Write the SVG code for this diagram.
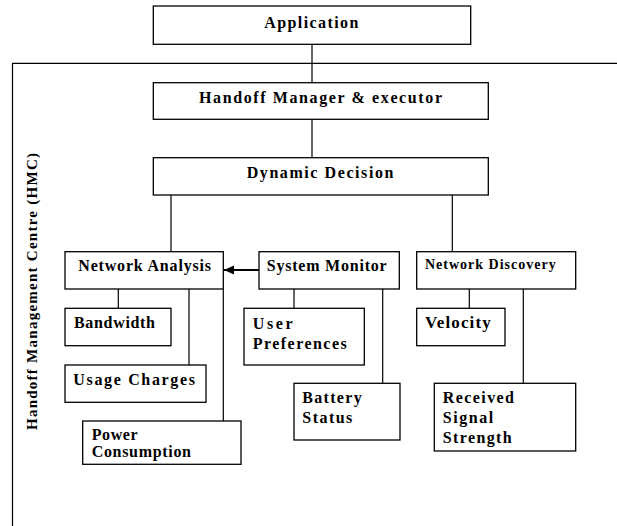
<svg xmlns="http://www.w3.org/2000/svg" width="617" height="526" viewBox="0 0 617 526">
<style>
.box{fill:#fff;stroke:#000;stroke-width:1.3}
.ln{fill:none;stroke:#000;stroke-width:1.2}
text{font-family:'Liberation Serif','Times New Roman','DejaVu Serif',serif;font-weight:700;font-size:16px;fill:#000}
.s{font-size:14px}
.b{font-size:17px}
.v{font-size:15px}
</style>
<defs>
<marker id="ah" markerUnits="userSpaceOnUse" markerWidth="12" markerHeight="10" refX="10" refY="5" orient="auto">
<polygon points="0,0.5 10,5 0,9.5" fill="#000"/>
</marker>
</defs>
<rect width="617" height="526" fill="#fff"/>
<g id="frame">
<path class="ln" d="M12.5,526 V63.3 H617"/>
<text class="v" transform="translate(37,430) rotate(-90)" textLength="277" lengthAdjust="spacing">Handoff Management Centre (HMC)</text>
</g>
<g id="connectors">
<path class="ln" d="M312,44.3 V82.7"/>
<path class="ln" d="M312,119.3 V157.7"/>
<path class="ln" d="M171,195 V251.7"/>
<path class="ln" d="M452.3,195 V251.7"/>
<path class="ln" d="M118.3,289 V308.3"/>
<path class="ln" d="M189,289 V365"/>
<path class="ln" d="M223.3,289 V421"/>
<path class="ln" d="M294,289 V308.3"/>
<path class="ln" d="M382.7,289 V383.3"/>
<path class="ln" d="M469.3,289 V308.3"/>
<path class="ln" d="M523.3,289 V383.3"/>
<line x1="259" y1="270" x2="224" y2="270" stroke="#000" stroke-width="2.2" marker-end="url(#ah)"/>
</g>
<g id="application">
<rect class="box" x="153.3" y="6" width="317.4" height="38.3"/>
<text x="264.3" y="28.3" textLength="94" lengthAdjust="spacing">Application</text>
</g>
<g id="handoff-manager">
<rect class="box" x="153.3" y="82.7" width="335" height="36.6"/>
<text x="199" y="103.3" textLength="243" lengthAdjust="spacing">Handoff Manager &amp; executor</text>
</g>
<g id="dynamic-decision">
<rect class="box" x="153.3" y="157.7" width="335" height="37.3"/>
<text x="246.7" y="177.7" textLength="146.7" lengthAdjust="spacing">Dynamic Decision</text>
</g>
<g id="network-analysis">
<rect class="box" x="65" y="251.7" width="158.3" height="37.3"/>
<text x="78.3" y="271" textLength="132.7" lengthAdjust="spacing">Network Analysis</text>
</g>
<g id="system-monitor">
<rect class="box" x="259" y="251.7" width="140.3" height="37.3"/>
<text x="266.7" y="271" textLength="120" lengthAdjust="spacing">System Monitor</text>
</g>
<g id="network-discovery">
<rect class="box" x="416.7" y="251.7" width="159" height="37.3"/>
<text class="s" x="425" y="269" textLength="130.7" lengthAdjust="spacing">Network Discovery</text>
</g>
<g id="bandwidth">
<rect class="box" x="65" y="308.3" width="106" height="37.4"/>
<text x="74" y="327.7" textLength="81" lengthAdjust="spacing">Bandwidth</text>
</g>
<g id="usage-charges">
<rect class="box" x="65" y="365" width="141" height="37.3"/>
<text x="73.3" y="385" textLength="121.7" lengthAdjust="spacing">Usage Charges</text>
</g>
<g id="power-consumption">
<rect class="box" x="82.7" y="421" width="158.3" height="43.3"/>
<text x="91.7" y="440" textLength="46" lengthAdjust="spacing">Power</text>
<text x="91.7" y="457.3" textLength="99.3" lengthAdjust="spacing">Consumption</text>
</g>
<g id="user-preferences">
<rect class="box" x="244" y="308.3" width="120.3" height="56.7"/>
<text x="252.7" y="329" textLength="40" lengthAdjust="spacing">User</text>
<text x="252.7" y="349" textLength="94" lengthAdjust="spacing">Preferences</text>
</g>
<g id="battery-status">
<rect class="box" x="294" y="383.3" width="106" height="56.7"/>
<text x="302.3" y="403.3" textLength="59.4" lengthAdjust="spacing">Battery</text>
<text x="302.3" y="423.3" textLength="50" lengthAdjust="spacing">Status</text>
</g>
<g id="velocity">
<rect class="box" x="416.7" y="308.3" width="88.3" height="37.4"/>
<text class="b" x="425" y="328.3" textLength="65.7" lengthAdjust="spacing">Velocity</text>
</g>
<g id="received-signal-strength">
<rect class="box" x="434.3" y="383.3" width="141.4" height="67.7"/>
<text x="442.7" y="403.3" textLength="71.3" lengthAdjust="spacing">Received</text>
<text x="442.7" y="423.3" textLength="50.6" lengthAdjust="spacing">Signal</text>
<text x="442.7" y="443.3" textLength="69" lengthAdjust="spacing">Strength</text>
</g>
</svg>
